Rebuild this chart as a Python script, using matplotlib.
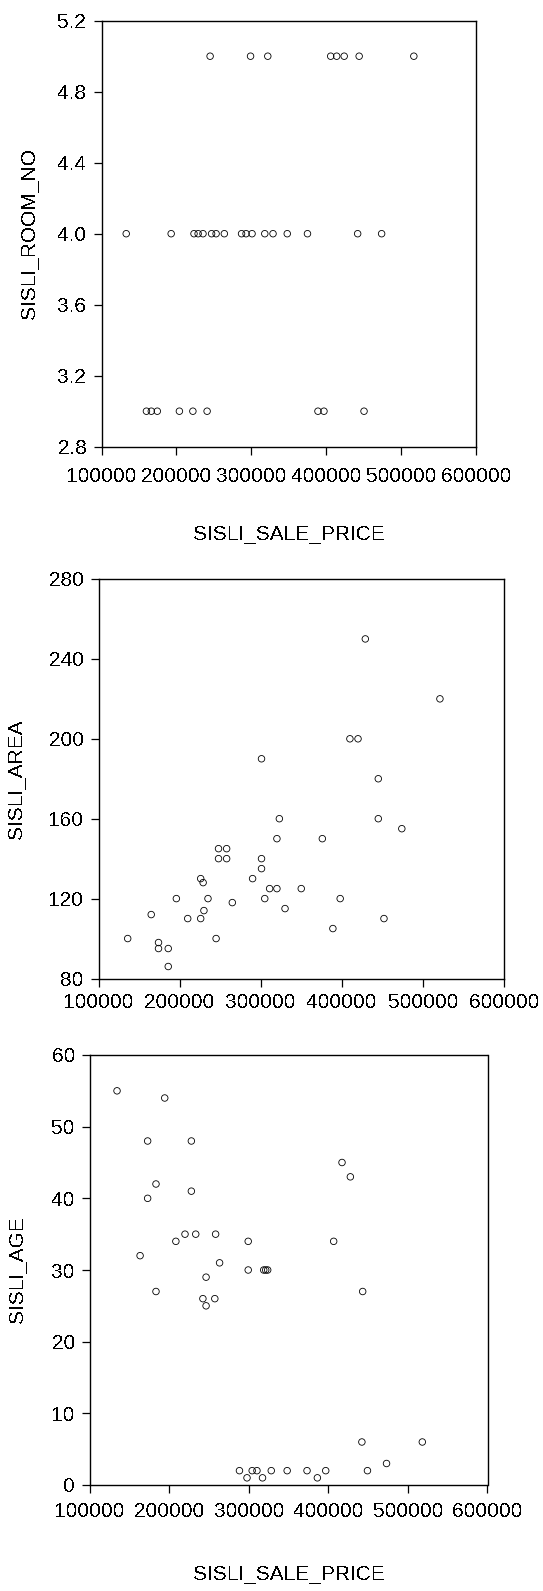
import matplotlib
matplotlib.use("Agg")
import matplotlib.pyplot as plt

plt.rcParams['font.family'] = ['Liberation Sans', 'DejaVu Sans']
plt.rcParams['font.size'] = 15
plt.rcParams['text.antialiased'] = False

# room count vs price
price_rooms = [245000, 299000, 322000, 406000, 414000, 424000, 444000, 517000,
               133000, 193000, 223500, 229000, 235500, 247000, 253000, 264000,
               287000, 293000, 301000, 318000, 329000, 348000, 375000, 442000,
               474000,
               160000, 166500, 174500, 204000, 222000, 241000, 389000, 397000,
               450500]
rooms = [5] * 8 + [4] * 17 + [3] * 9

# floor area vs price
price_area = [429000, 521000, 410000, 420000, 301000, 445000, 323000, 445000,
              474000, 320000, 376000, 248000, 258000, 248000, 258000, 301000,
              301000, 226000, 229000, 290000, 311000, 320000, 350000, 196000,
              235000, 305000, 398000, 265000, 230000, 330000, 165000, 210000,
              226000, 452000, 389000, 136000, 245000, 174000, 174000, 186000,
              186000]
area = [250, 220, 200, 200, 190, 180, 160, 160,
        155, 150, 150, 145, 145, 140, 140, 140,
        135, 130, 128, 130, 125, 125, 125, 120,
        120, 120, 120, 118, 114, 115, 112, 110,
        110, 110, 105, 100, 100, 98, 95, 95,
        86]

# building age vs price
price_age = [134000, 194000, 172500, 227500, 417000, 427500, 183000, 227500,
             172500, 219500, 233000, 258000, 208000, 299000, 406500, 163000,
             263000, 299000, 318500, 321000, 323500, 246000, 183000, 443000,
             242000, 257000, 246000, 442000, 518000, 473000, 449000, 288000,
             297500, 304000, 310000, 317000, 328000, 348000, 373000, 386000,
             396500]
age = [55, 54, 48, 48, 45, 43, 42, 41,
       40, 35, 35, 35, 34, 34, 34, 32,
       31, 30, 30, 30, 30, 29, 27, 27,
       26, 26, 25, 6, 6, 3, 2, 2,
       1, 2, 2, 1, 2, 2, 2, 1,
       2]

x_ticks = [100000, 200000, 300000, 400000, 500000, 600000]

W, H = 543, 1591
fig = plt.figure(figsize=(W / 100, H / 100), dpi=100)


def panel(left, right, top, bottom):
    # axes box given in pixels from the top-left corner
    return fig.add_axes([left / W, 1 - bottom / H, (right - left) / W, (bottom - top) / H])


def style(ax, box, xpad, ylabel, ylabel_x, xlabel=None, xlabel_y=None):
    left, right, top, bottom = box
    for s in ax.spines.values():
        s.set_linewidth(1.0)
        s.set_color('black')
    ax.tick_params(direction='out', length=5.8, width=0.9, colors='black')
    ax.tick_params(axis='x', pad=xpad)
    ax.tick_params(axis='y', pad=5)
    ax.set_xlim(100000, 600000)
    ax.set_xticks(x_ticks)
    ax.set_xticklabels([str(t) for t in x_ticks])
    ax.set_ylabel(ylabel)
    ax.yaxis.set_label_coords((ylabel_x - left) / (right - left), 0.5)
    ax.yaxis.label.set_va('center')
    if xlabel:
        ax.set_xlabel(xlabel)
        ax.xaxis.set_label_coords(0.5, (bottom - xlabel_y) / (bottom - top))
        ax.xaxis.label.set_va('center')


def dots(ax, x, y):
    ax.scatter(x, y, s=22, facecolors='none', edgecolors='black',
               linewidths=0.6, clip_on=False)


box1 = (101.5, 476, 20.7, 446.7)
ax1 = panel(*box1)
dots(ax1, price_rooms, rooms)
ax1.set_ylim(2.8, 5.2)
ax1.set_yticks([2.8, 3.2, 3.6, 4.0, 4.4, 4.8, 5.2])
ax1.set_yticklabels(['2.8', '3.2', '3.6', '4.0', '4.4', '4.8', '5.2'])
style(ax1, box1, 8.5, 'SISLI_ROOM_NO', 29.5, 'SISLI_SALE_PRICE', 535)

box2 = (98.5, 504, 579, 978.5)
ax2 = panel(*box2)
dots(ax2, price_area, area)
ax2.set_ylim(80, 280)
ax2.set_yticks(range(80, 281, 40))
style(ax2, box2, 4.7, 'SISLI_AREA', 16.5)

box3 = (90, 487.5, 1055, 1485)
ax3 = panel(*box3)
dots(ax3, price_age, age)
ax3.set_ylim(0, 60)
ax3.set_yticks(range(0, 61, 10))
style(ax3, box3, 6.2, 'SISLI_AGE', 18, 'SISLI_SALE_PRICE', 1574)

fig.savefig('out.png', dpi=100)
